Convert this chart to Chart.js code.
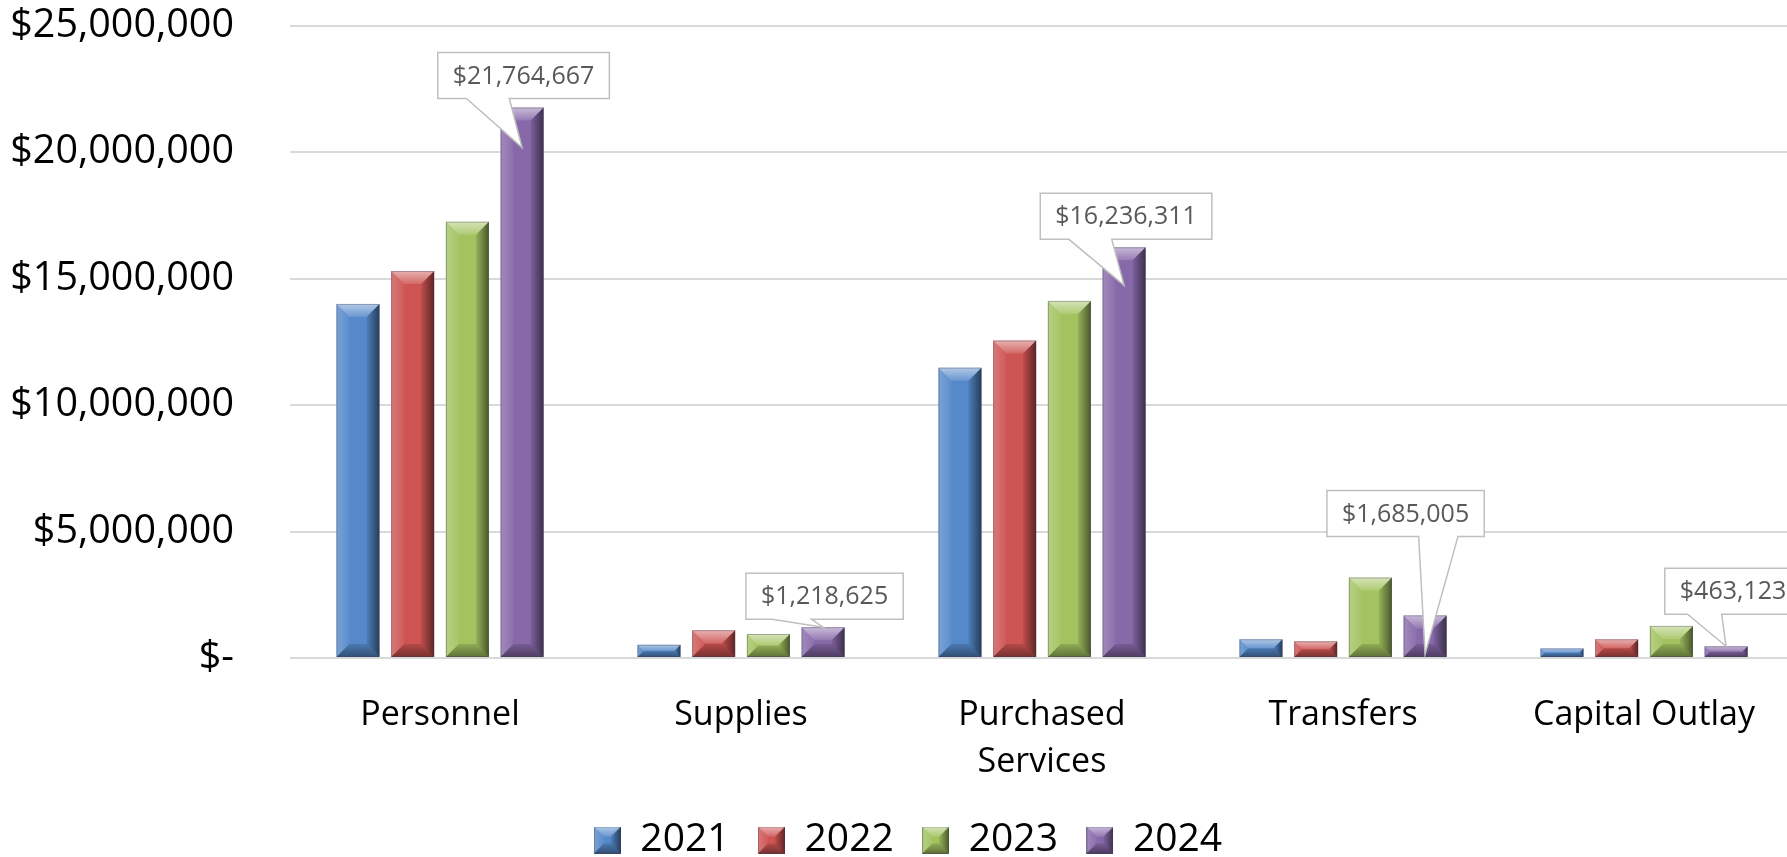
<!DOCTYPE html>
<html>
<head>
<meta charset="utf-8">
<script src="https://cdn.jsdelivr.net/npm/chart.js@4"></script>
<style>
html, body { margin: 0; padding: 0; background: #fff; overflow: hidden; }
</style>
</head>
<body>
<canvas id="budgetChart" width="1816" height="857"></canvas>
<script>
const categories = ['Personnel', 'Supplies', ['Purchased', 'Services'], 'Transfers', 'Capital Outlay'];
const years = ['2021', '2022', '2023', '2024'];
const values2021 = [14000000, 520000, 11480000, 740000, 380000];
const values2022 = [15300000, 1100000, 12550000, 660000, 740000];
const values2023 = [17250000, 950000, 14120000, 3180000, 1270000];
const values2024 = [21764667, 1218625, 16236311, 1685005, 463123];
const yTicks = [0, 5000000, 10000000, 15000000, 20000000, 25000000];

const colors = ['#5589CA', '#CD5452', '#A3C361', '#8769A9'];

// where each 2024 callout sits relative to its bar
const calloutLayout = [
    { dx: 1.5, gap: 9, tip: 40 },
    { dx: 1.5, gap: 8, tip: 0 },
    { dx: 2, gap: 8, tip: 38 },
    { dx: -19.5, gap: 79, tip: 39 },
    { dx: 7, gap: 32, tip: 0 }
];

const FONT = '"Open Sans", "Noto Sans", sans-serif';
const ICON = 27;

function money(v) {
    if (v === 0) return '$-';
    return '$' + v.toLocaleString('en-US');
}

function poly(ctx, pts, fill) {
    ctx.beginPath();
    ctx.moveTo(pts[0][0], pts[0][1]);
    for (let i = 1; i < pts.length; i++) ctx.lineTo(pts[i][0], pts[i][1]);
    ctx.closePath();
    ctx.fillStyle = fill;
    ctx.fill();
}

function bevel(ctx, x0, y0, x1, y1, size) {
    const b = Math.min(size, (x1 - x0) / 2, (y1 - y0) / 2);
    let g = ctx.createLinearGradient(x0, 0, x0 + b, 0);
    g.addColorStop(0, 'rgba(255,255,255,0.22)');
    g.addColorStop(1, 'rgba(255,255,255,0.04)');
    poly(ctx, [[x0, y0], [x0 + b, y0 + b], [x0 + b, y1 - b], [x0, y1]], g);

    g = ctx.createLinearGradient(x1 - b, 0, x1, 0);
    g.addColorStop(0, 'rgba(0,0,0,0.08)');
    g.addColorStop(1, 'rgba(0,0,0,0.55)');
    poly(ctx, [[x1, y0], [x1, y1], [x1 - b, y1 - b], [x1 - b, y0 + b]], g);

    g = ctx.createLinearGradient(0, y0, 0, y0 + b);
    g.addColorStop(0, 'rgba(255,255,255,0.55)');
    g.addColorStop(1, 'rgba(255,255,255,0.12)');
    poly(ctx, [[x0, y0], [x1, y0], [x1 - b, y0 + b], [x0 + b, y0 + b]], g);

    g = ctx.createLinearGradient(0, y1 - b, 0, y1);
    g.addColorStop(0, 'rgba(0,0,0,0.12)');
    g.addColorStop(1, 'rgba(0,0,0,0.42)');
    poly(ctx, [[x0, y1], [x1, y1], [x1 - b, y1 - b], [x0 + b, y1 - b]], g);

    ctx.strokeStyle = 'rgba(60,60,80,0.35)';
    ctx.lineWidth = 1;
    ctx.strokeRect(x0 + 0.5, y0 + 0.5, x1 - x0 - 1, y1 - y0 - 1);
}

function legendIcon(color) {
    const c = document.createElement('canvas');
    c.width = ICON;
    c.height = ICON;
    const ctx = c.getContext('2d');
    ctx.fillStyle = color;
    ctx.fillRect(0, 0, ICON, ICON);
    bevel(ctx, 0, 0, ICON, ICON, 10);
    return c;
}

const bevelPlugin = {
    id: 'bevel',
    afterDatasetsDraw(chart) {
        const ctx = chart.ctx;
        ctx.save();
        chart.data.datasets.forEach((ds, i) => {
            chart.getDatasetMeta(i).data.forEach(bar => {
                const p = bar.getProps(['x', 'y', 'base', 'width'], true);
                bevel(ctx, p.x - p.width / 2, p.y, p.x + p.width / 2, p.base, 13);
            });
        });
        ctx.restore();
    }
};

const calloutPlugin = {
    id: 'callouts',
    afterDatasetsDraw(chart) {
        const ctx = chart.ctx;
        const meta = chart.getDatasetMeta(3);
        ctx.save();
        ctx.font = '25px ' + FONT;
        meta.data.forEach((bar, i) => {
            const lay = calloutLayout[i];
            const text = money(values2024[i]);
            const w = ctx.measureText(text).width + 30;
            const h = 46;
            const cx = bar.x + lay.dx;
            const bottom = bar.y - lay.gap;
            const left = cx - w / 2, right = cx + w / 2, top = bottom - h;
            const tipX = bar.x, tipY = bar.y + lay.tip;
            let b0, b1;
            if (tipX <= cx) { b0 = left + w / 6; b1 = left + w * 5 / 12; }
            else { b0 = left + w * 7 / 12; b1 = left + w * 5 / 6; }
            ctx.beginPath();
            ctx.moveTo(left, top);
            ctx.lineTo(right, top);
            ctx.lineTo(right, bottom);
            ctx.lineTo(b1, bottom);
            ctx.lineTo(tipX, tipY);
            ctx.lineTo(b0, bottom);
            ctx.lineTo(left, bottom);
            ctx.closePath();
            ctx.fillStyle = '#fff';
            ctx.fill();
            ctx.strokeStyle = '#BFBFBF';
            ctx.lineWidth = 1.5;
            ctx.stroke();
            ctx.fillStyle = '#595959';
            ctx.textAlign = 'center';
            ctx.textBaseline = 'middle';
            ctx.fillText(text, cx, top + h / 2 + 1);
        });
        ctx.restore();
    }
};

const seriesValues = [values2021, values2022, values2023, values2024];

const config = {
    type: 'bar',
    data: {
        labels: categories,
        datasets: years.map((y, i) => ({
            label: y,
            data: seriesValues[i],
            backgroundColor: colors[i],
            borderWidth: 0,
            pointStyle: legendIcon(colors[i]),
            categoryPercentage: 0.727,
            barPercentage: 0.786
        }))
    },
    options: {
        responsive: false,
        animation: false,
        layout: { padding: { left: 0, right: 0, top: 0, bottom: -12.5 } },
        plugins: {
            tooltip: { enabled: false },
            legend: {
                position: 'bottom',
                labels: {
                    usePointStyle: true,
                    boxHeight: ICON,
                    pointStyleWidth: ICON,
                    padding: 28.5,
                    color: '#000',
                    font: { family: FONT, size: 39 }
                }
            }
        },
        scales: {
            x: {
                afterFit(scale) { scale.height = 134; },
                grid: { display: false },
                border: { display: false },
                ticks: {
                    color: '#000',
                    padding: 26,
                    maxRotation: 0,
                    autoSkip: false,
                    font: { family: FONT, size: 34, lineHeight: 1.38 }
                }
            },
            y: {
                min: 0,
                max: 25000000,
                afterFit(scale) { scale.width = 289.5; },
                afterBuildTicks(scale) { scale.ticks = yTicks.map(v => ({ value: v })); },
                grid: { color: '#D9D9D9', lineWidth: 2, tickLength: 53.5, tickColor: 'rgba(0,0,0,0)' },
                border: { display: false },
                ticks: {
                    color: '#000',
                    padding: 2,
                    font: { family: FONT, size: 39.5 },
                    callback: v => money(v)
                }
            },
            // empty right-hand strip so the plot stops short of the canvas edge
            yRight: {
                position: 'right',
                afterFit(scale) { scale.width = 21.5; },
                grid: { display: false },
                border: { display: false },
                ticks: { display: false }
            }
        }
    },
    plugins: [bevelPlugin, calloutPlugin]
};

new Chart(document.getElementById('budgetChart').getContext('2d'), config);
</script>
</body>
</html>
